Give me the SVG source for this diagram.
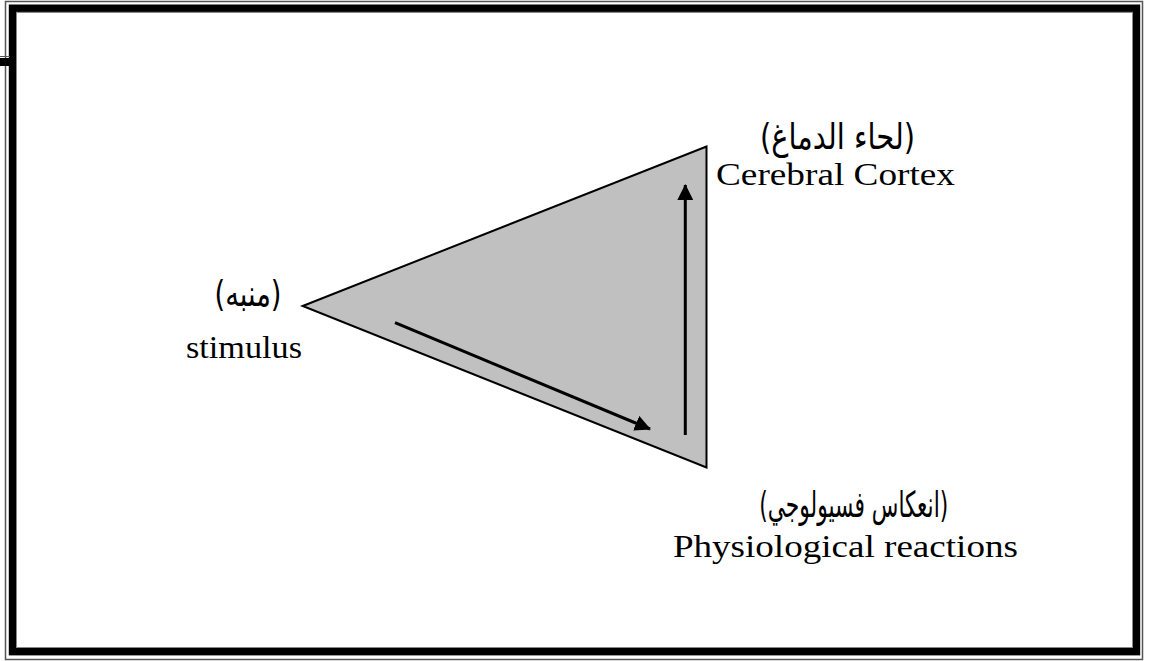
<svg xmlns="http://www.w3.org/2000/svg" width="1150" height="661" viewBox="0 0 1150 661">
<style>
.en{font-family:"Liberation Serif","Times New Roman",serif;font-size:32px;fill:#000;text-anchor:middle}
.ar{font-family:"DejaVu Sans","Noto Sans",sans-serif;font-size:36px;fill:#000;text-anchor:middle}
.conn{stroke:#000;stroke-width:3;fill:none}
</style>
<defs>
<marker id="ah" markerWidth="16" markerHeight="16" refX="15" refY="8" orient="auto" markerUnits="userSpaceOnUse">
<path d="M0,0 L16,8 L0,16 Z" fill="#000"/>
</marker>
</defs>
<rect width="1150" height="661" fill="#fff"/>
<g id="frame">
<rect x="5.5" y="1.5" width="1137" height="658" fill="none" stroke="#555" stroke-width="1.5"/>
<rect x="12.5" y="8.2" width="1124" height="643.5" fill="none" stroke="#000" stroke-width="7.4"/>
<rect x="16.5" y="12.5" width="1116" height="635" fill="none" stroke="#888" stroke-width="1"/>
<rect x="0" y="58" width="10" height="8" fill="#000"/>
<line x1="0" y1="56.5" x2="10" y2="56.5" stroke="#555" stroke-width="1"/>
</g>
<g id="triangle">
<polygon points="302.7,306 706.5,146.5 706.5,467.5" fill="#c0c0c0" stroke="#000" stroke-width="2"/>
</g>
<g id="connectors">
<line class="conn" x1="395" y1="322.7" x2="650" y2="429" marker-end="url(#ah)"/>
<line class="conn" x1="685.3" y1="435" x2="685.3" y2="185" marker-end="url(#ah)"/>
</g>
<g id="node-cortex">
<text class="ar" x="837.5" y="149" direction="rtl" textLength="155" lengthAdjust="spacingAndGlyphs">(لحاء الدماغ)</text>
<text class="en" x="835.5" y="184.5" textLength="239" lengthAdjust="spacingAndGlyphs">Cerebral Cortex</text>
</g>
<g id="node-stimulus">
<text class="ar" x="248" y="306" direction="rtl" textLength="67" lengthAdjust="spacingAndGlyphs">(منبه)</text>
<text class="en" x="244" y="358" textLength="116" lengthAdjust="spacingAndGlyphs">stimulus</text>
</g>
<g id="node-reactions">
<text class="ar" x="853.7" y="517" direction="rtl" textLength="189" lengthAdjust="spacingAndGlyphs">(انعكاس فسيولوجي)</text>
<text class="en" x="845.4" y="557" textLength="345" lengthAdjust="spacingAndGlyphs">Physiological reactions</text>
</g>
</svg>
